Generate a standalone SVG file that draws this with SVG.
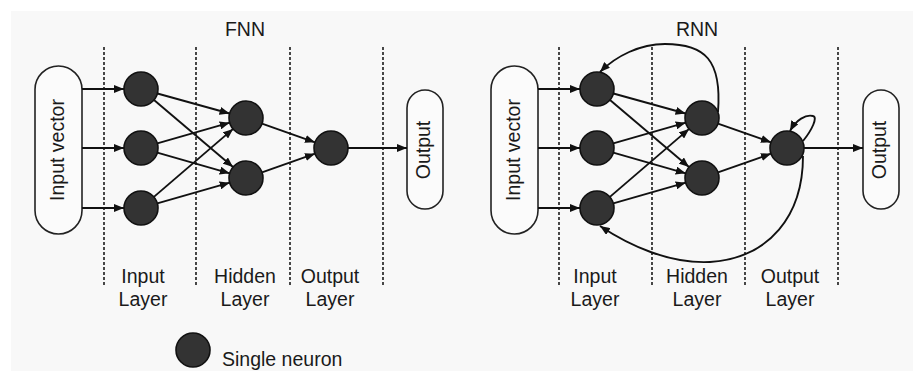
<svg xmlns="http://www.w3.org/2000/svg" width="913" height="371" viewBox="0 0 913 371">
<defs>
<marker id="ah" viewBox="0 0 10 8" refX="10" refY="4" markerWidth="10" markerHeight="8" markerUnits="userSpaceOnUse" orient="auto">
<path d="M0,0 L10,4 L0,8 Z" fill="#111"/>
</marker>
<style>
.bg{fill:#f8f8f8}
.dash{stroke:#333;stroke-width:1.8;stroke-dasharray:3,2;fill:none}
.neu{fill:#333;stroke:#111;stroke-width:1.6}
.box{fill:#fbfbfb;stroke:#222;stroke-width:1.6}
.ln{stroke:#111;stroke-width:1.9;fill:none;marker-end:url(#ah)}
.t{font-family:"Liberation Sans",Arial,sans-serif;font-size:19.5px;fill:#1a1a1a;text-anchor:middle}
.ts{font-family:"Liberation Sans",Arial,sans-serif;font-size:19.5px;fill:#1a1a1a}
</style>
</defs>
<rect class="bg" x="11" y="11" width="902" height="360"/>

<g id="dividers">
<line class="dash" x1="104" y1="47" x2="104" y2="285"/>
<line class="dash" x1="196" y1="47" x2="196" y2="285"/>
<line class="dash" x1="290" y1="47" x2="290" y2="285"/>
<line class="dash" x1="383" y1="47" x2="383" y2="285"/>
<line class="dash" x1="559" y1="47" x2="559" y2="285"/>
<line class="dash" x1="652" y1="47" x2="652" y2="285"/>
<line class="dash" x1="745" y1="47" x2="745" y2="285"/>
<line class="dash" x1="838" y1="47" x2="838" y2="285"/>
</g>

<g id="labels">
<text class="t" x="245" y="36">FNN</text>
<text class="t" x="697" y="36">RNN</text>
<text class="t" x="143" y="283">Input</text>
<text class="t" x="143" y="306">Layer</text>
<text class="t" x="245" y="283">Hidden</text>
<text class="t" x="245" y="306">Layer</text>
<text class="t" x="330" y="283">Output</text>
<text class="t" x="330" y="306">Layer</text>
<text class="t" x="595" y="283">Input</text>
<text class="t" x="595" y="306">Layer</text>
<text class="t" x="697" y="283">Hidden</text>
<text class="t" x="697" y="306">Layer</text>
<text class="t" x="790" y="283">Output</text>
<text class="t" x="790" y="306">Layer</text>
</g>

<g id="fnn-input-vector">
<rect class="box" x="35" y="66" width="47" height="168" rx="23.5"/>
<text class="t" transform="translate(64,150) rotate(-90)">Input vector</text>
</g>
<g id="fnn-output-box">
<rect class="box" x="407" y="90" width="36" height="119" rx="18"/>
<text class="t" transform="translate(430,150) rotate(-90)">Output</text>
</g>
<g id="fnn-in1"><circle class="neu" cx="141" cy="89" r="17"/></g>
<g id="fnn-in2"><circle class="neu" cx="141" cy="148" r="17"/></g>
<g id="fnn-in3"><circle class="neu" cx="141" cy="208" r="17"/></g>
<g id="fnn-h1"><circle class="neu" cx="246" cy="118" r="17"/></g>
<g id="fnn-h2"><circle class="neu" cx="246" cy="178" r="17"/></g>
<g id="fnn-out"><circle class="neu" cx="331" cy="148" r="17"/></g>

<g id="rnn-input-vector">
<rect class="box" x="491" y="66" width="47" height="168" rx="23.5"/>
<text class="t" transform="translate(520,150) rotate(-90)">Input vector</text>
</g>
<g id="rnn-output-box">
<rect class="box" x="863" y="90" width="36" height="119" rx="18"/>
<text class="t" transform="translate(886,150) rotate(-90)">Output</text>
</g>
<g id="rnn-in1"><circle class="neu" cx="597" cy="89" r="17"/></g>
<g id="rnn-in2"><circle class="neu" cx="597" cy="148" r="17"/></g>
<g id="rnn-in3"><circle class="neu" cx="597" cy="208" r="17"/></g>
<g id="rnn-h1"><circle class="neu" cx="702" cy="118" r="17"/></g>
<g id="rnn-h2"><circle class="neu" cx="702" cy="178" r="17"/></g>
<g id="rnn-out"><circle class="neu" cx="787" cy="148" r="17"/></g>

<g id="legend">
<circle class="neu" cx="193" cy="350" r="17"/>
<text class="ts" x="222" y="366">Single neuron</text>
</g>

<g id="connectors">
<path class="ln" d="M82,89 H124"/>
<path class="ln" d="M82,148 H124"/>
<path class="ln" d="M82,208 H124"/>
<path class="ln" d="M157.4,93.5 L229.6,113.5"/>
<path class="ln" d="M154,100 L233,167"/>
<path class="ln" d="M157.3,143.3 L229.7,122.7"/>
<path class="ln" d="M157.3,152.7 L229.7,173.3"/>
<path class="ln" d="M153.9,196.9 L233.1,128.9"/>
<path class="ln" d="M157.3,203.3 L229.7,182.7"/>
<path class="ln" d="M262,123.7 L315,142.3"/>
<path class="ln" d="M262,172.3 L315,153.7"/>
<path class="ln" d="M348,148 H407"/>

<path class="ln" d="M538,89 H580"/>
<path class="ln" d="M538,148 H580"/>
<path class="ln" d="M538,208 H580"/>
<path class="ln" d="M613.4,93.5 L685.6,113.5"/>
<path class="ln" d="M610,100 L689,167"/>
<path class="ln" d="M613.3,143.3 L685.7,122.7"/>
<path class="ln" d="M613.3,152.7 L685.7,173.3"/>
<path class="ln" d="M609.9,196.9 L689.1,128.9"/>
<path class="ln" d="M613.3,203.3 L685.7,182.7"/>
<path class="ln" d="M718,123.7 L771,142.3"/>
<path class="ln" d="M718,172.3 L771,153.7"/>
<path class="ln" d="M804,148 H863"/>
<path class="ln" d="M718,112 C722,60 705,44 665,44 C640,44 616,56 600,72"/>
<path class="ln" d="M803,156 C803,215 770,258 710,262 C670,264 630,246 600,226"/>
<path class="ln" d="M803,141 C812,130 818,117 813,116 C806,114 796,120 790,131"/>
</g>
</svg>
